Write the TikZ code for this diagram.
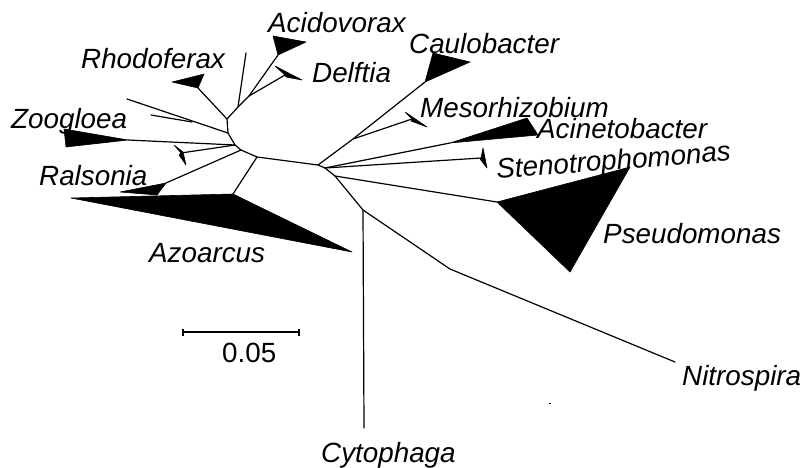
\documentclass[tikz,border=0pt]{standalone}
\usepackage{fontspec}
\setmainfont{Liberation Sans}
\begin{document}
\begin{tikzpicture}[x=1pt,y=-1pt,
  br/.style={line width=1.2pt,line join=round,line cap=round},
  clade/.style={fill=black,draw=black,line width=0.6pt,line join=round},
  lbl/.style={anchor=base west,inner sep=0pt,font=\fontsize{27.8}{32}\selectfont\itshape},
  sclbl/.style={anchor=base west,inner sep=0pt,font=\fontsize{27.8}{32}\selectfont}]
\useasboundingbox (0,0) rectangle (803,467);
% internal nodes
\coordinate (R1) at (227,119);
\coordinate (A1) at (238,107);
\coordinate (D1) at (249,96);
\coordinate (L1) at (228,133);
\coordinate (Z1) at (235,145);
\coordinate (Ra1) at (241,150);
\coordinate (B1) at (257,157);
\coordinate (C1) at (318,165);
\coordinate (M0) at (353,139);
\coordinate (S1) at (325,168);
\coordinate (P1) at (335,176);
\coordinate (N1) at (363,210);
\coordinate (NB) at (450,269);
% tips
\coordinate (tU) at (246,53);
\coordinate (tAc) at (278,55);
\coordinate (tDe) at (285,75);
\coordinate (tRh) at (198,88);
\coordinate (tL1) at (127,99);
\coordinate (tL2) at (151,115);
\coordinate (jL2) at (192,122);
\coordinate (tZo) at (128,140);
\coordinate (tFa) at (181,153);
\coordinate (tRa) at (166,183);
\coordinate (tAz) at (233,194);
\coordinate (tCa) at (425,82);
\coordinate (tMe) at (412,119);
\coordinate (tAn) at (450,143);
\coordinate (tSt) at (481,158);
\coordinate (tPs) at (497,202);
\coordinate (tCy) at (364,428);
\coordinate (tNi) at (675,362);
% branches
\draw[br] (A1) -- (R1) -- (L1) -- (Z1) -- (Ra1) -- (B1) -- (C1) -- (S1) -- (P1) -- (N1);
\draw[br] (R1) -- (tRh);
\draw[br] (A1) -- (tU);
\draw[br] (A1) -- (D1) -- (tAc);
\draw[br] (D1) -- (tDe);
\draw[br] (L1) -- (tL1);
\draw[br] (jL2) -- (tL2);
\draw[br] (Z1) -- (tZo);
\draw[br] (Z1) -- (tFa);
\draw[br] (Ra1) -- (tRa);
\draw[br] (B1) -- (tAz);
\draw[br] (C1) -- (M0) -- (tCa);
\draw[br] (M0) -- (tMe);
\draw[br] (S1) -- (tAn);
\draw[br] (S1) -- (tSt);
\draw[br] (P1) -- (tPs);
\draw[br] (N1) -- (tCy);
\draw[br] (N1) -- (NB) -- (tNi);
% collapsed clades
\path[clade] (tAc) -- (273,36) -- (306,42) -- cycle;
\path[clade] (tDe) -- (275,66) -- (302,80) -- (286,77) -- cycle;
\path[clade] (tRh) -- (172,82) -- (204,74) -- cycle;
\path[clade] (tZo) -- (64,129) -- (66,147) -- cycle;
\path[clade] (tFa) -- (174,145) -- (183,152) -- (186,165) -- (179,155) -- cycle;
\path[clade] (tRa) -- (120,192) -- (157,195) -- cycle;
\path[clade] (tAz) -- (71,198) -- (352,252) -- cycle;
\path[clade] (tCa) -- (433,53) -- (470,62) -- cycle;
\path[clade] (tMe) -- (405,112) -- (414,118) -- (427,127) -- (411,121) -- cycle;
\path[clade] (tAn) -- (527,118) -- (538,135) -- cycle;
\path[clade] (tSt) -- (483,148) -- (485,158) -- (487,168) -- (480,159) -- cycle;
\path[clade] (tPs) -- (630,167) -- (570,272) -- cycle;
% labels
\node[lbl] (lAc) at (268,32) {Acidovorax};
\node[lbl] (lDe) at (312,82) {Delftia};
\node[lbl] (lRh) at (81,68) {Rhodoferax};
\node[lbl] (lCa) at (409,53) {Caulobacter};
\node[lbl] (lMe) at (420,117) {Mesorhizobium};
\node[lbl] (lAn) at (537,138) {Acinetobacter};
\node[lbl,rotate=4.5] (lSt) at (497,179) {Stenotrophomonas};
\node[lbl] (lZo) at (11,128) {Zoogloea};
\node[lbl] (lRa) at (39,185) {Ralsonia};
\node[lbl] (lAz) at (149,262) {Azoarcus};
\node[lbl] (lPs) at (603,243) {Pseudomonas};
\node[lbl] (lNi) at (682,385) {Nitrospira};
\node[lbl] (lCy) at (321,462) {Cytophaga};
% scale bar
\coordinate (s1) at (183,332);
\coordinate (s2) at (299,332);
\draw[br,line cap=butt] (s1) -- (s2);
\draw[br,line cap=butt] ([yshift=-3.5]s1) -- ([yshift=3.5]s1);
\draw[br,line cap=butt] ([yshift=-3.5]s2) -- ([yshift=3.5]s2);
\node[sclbl] (lsc) at (222,362) {0.05};
% speck
\fill (549,402.5) rectangle (551,403.5);
\end{tikzpicture}
\end{document}
